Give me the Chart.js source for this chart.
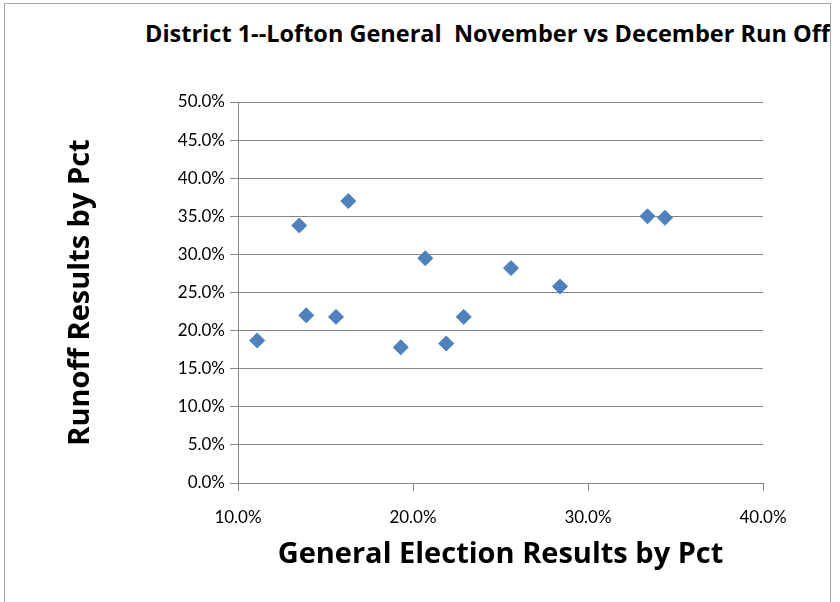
<!DOCTYPE html>
<html>
<head>
<meta charset="utf-8">
<title>District 1 - Lofton</title>
<script src="https://cdn.jsdelivr.net/npm/chart.js@4.4.0/dist/chart.umd.min.js"></script>
<style>
  html, body { margin: 0; padding: 0; background: #fff; }
  #wrap { position: relative; width: 840px; height: 602px; overflow: hidden; }
  #frame { position: absolute; left: 4px; top: 3px; width: 825px; height: 640px;
           border: 1px solid #a6a6a6; overflow: hidden; }
  #title { position: absolute; left: 140px; top: 14px; white-space: nowrap;
           font: bold 23.5px "Open Sans", sans-serif; line-height: 30px; color: #000; }
  #chart { position: absolute; left: 0; top: 0; }
</style>
</head>
<body>
<div id="wrap">
  <div id="frame">
    <div id="title">District 1--Lofton General&nbsp; November vs December Run Off</div>
  </div>
  <canvas id="chart" width="840" height="602"></canvas>
</div>
<script>
// 선거구별 득표율 (%) - 그림에서 읽은 값
const generalPct = [11.1, 13.5, 13.9, 15.6, 16.3, 19.3, 20.7, 21.9, 22.9, 25.6, 28.4, 33.4, 34.4];
const runoffPct  = [18.7, 33.8, 22.0, 21.8, 37.0, 17.8, 29.5, 18.3, 21.8, 28.2, 25.8, 35.0, 34.8];

const xTicks = [10, 20, 30, 40];
const yTicks = [0, 5, 10, 15, 20, 25, 30, 35, 40, 45, 50];

const gray = '#868686';
const pct = v => v.toFixed(1) + '%';
const tickFont = { family: 'Lato', size: 17 };

new Chart(document.getElementById('chart'), {
  type: 'scatter',
  data: {
    datasets: [{
      label: 'Pct',
      data: generalPct.map((x, i) => ({ x, y: runoffPct[i] })),
      pointStyle: 'rectRot',
      pointRadius: 7.5,
      pointHoverRadius: 7.5,
      backgroundColor: '#4F81BD',
      borderColor: '#4A7EBB',
      borderWidth: 1,
    }],
  },
  options: {
    responsive: false,
    animation: false,
    devicePixelRatio: 1,
    layout: { padding: { left: 0, top: 102, right: 77, bottom: 0 } },
    plugins: { legend: { display: false }, tooltip: { enabled: false } },
    scales: {
      x: {
        type: 'linear', position: 'bottom', min: 10, max: 40,
        afterBuildTicks: s => { s.ticks = xTicks.map(v => ({ value: v })); },
        afterFit: s => { s.height = 119; },
        grid: { drawOnChartArea: false, drawTicks: true, tickLength: 8, color: gray },
        border: { color: gray },
        ticks: { padding: 16, color: '#000', font: tickFont, callback: pct, maxRotation: 0 },
        title: {
          display: true, text: 'General Election Results by Pct', color: '#000',
          font: { family: 'Open Sans', size: 29, weight: 'bold' }, padding: { top: 0, bottom: 29.5 },
        },
      },
      y: {
        type: 'linear', position: 'left', min: 0, max: 50,
        afterBuildTicks: s => { s.ticks = yTicks.map(v => ({ value: v })); },
        afterFit: s => { s.width = 238; },
        grid: { color: gray, tickLength: 8 },
        border: { color: gray },
        ticks: { padding: 5, color: '#000', font: tickFont, callback: pct },
        title: {
          display: true, text: 'Runoff Results by Pct', color: '#000',
          font: { family: 'Open Sans', size: 29, weight: 'bold' }, padding: { top: 63, bottom: 0 },
        },
      },
    },
  },
});
</script>
</body>
</html>
